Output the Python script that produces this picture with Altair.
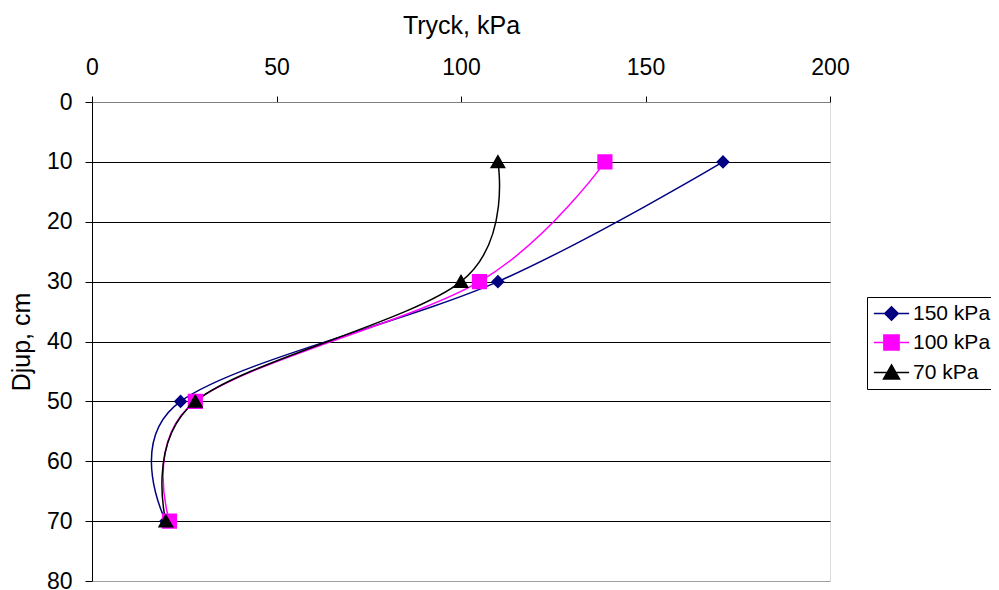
import altair as alt
import pandas as pd

series = ["150 kPa", "100 kPa", "70 kPa"]
depth = [10, 30, 50, 70]
p150 = [171, 110, 24, 20]
p100 = [139, 105, 28, 21]
p70 = [110, 100, 28, 20]
colors = ["#000080", "#FF00FF", "#000000"]
x_ticks = [0, 50, 100, 150, 200]
y_ticks = [0, 10, 20, 30, 40, 50, 60, 70, 80]

# marker paths (with a short horizontal line that only shows in the legend, where it is stroked)
seg = "M-2.2,0H2.2"
shapes = [
    "M-0.85,0L0,-0.85L0.85,0L0,0.85Z" + seg,
    "M-0.95,-0.95H0.95V0.95H-0.95Z" + seg,
    "M0,-0.95L1,0.8L-1,0.8Z" + seg,
]

rows = []
for s, vals in zip(series, [p150, p100, p70]):
    for d, v in zip(depth, vals):
        rows.append({"series": s, "tryck": v, "djup": d})
df = pd.DataFrame(rows)

FONT = "Liberation Sans"

x_enc = alt.X(
    "tryck:Q",
    scale=alt.Scale(domain=[0, 200], nice=False, zero=False),
    axis=alt.Axis(
        orient="top", values=x_ticks, title="Tryck, kPa", grid=False,
        labelFontSize=23, titleFontSize=25, titleFontWeight="normal",
        labelFont=FONT, titleFont=FONT, labelColor="black", titleColor="black",
        tickColor="black", tickSize=6, domainColor="#808080",
        labelPadding=17, titlePadding=18, labelFlush=False, labelOverlap=False,
    ),
)
y_enc = alt.Y(
    "djup:Q",
    scale=alt.Scale(domain=[0, 80], reverse=True, nice=False, zero=False),
    axis=alt.Axis(
        values=y_ticks, title="Djup, cm", grid=True,
        gridColor={"condition": {"test": "datum.value === 0 || datum.value === 80", "value": "#a0a0a0"}, "value": "black"},
        gridOpacity=1, gridWidth=1,
        labelFontSize=23, titleFontSize=25, titleFontWeight="normal",
        labelFont=FONT, titleFont=FONT, labelColor="black", titleColor="black",
        tickColor="black", tickSize=7, domainColor="black",
        labelPadding=13, titlePadding=12, labelFlush=False, labelOverlap=False,
    ),
)

fill_scale = alt.Scale(domain=series, range=colors)
stroke_scale = alt.Scale(domain=series, range=colors)
shape_scale = alt.Scale(domain=series, range=shapes)

legend = alt.Legend(
    title=None, orient="none", legendX=775, legendY=195,
    strokeColor="black", fillColor="white", padding=6, cornerRadius=0,
    labelFont=FONT, labelFontSize=21, labelColor="black",
    symbolSize=256, symbolStrokeWidth=1.5, symbolOpacity=1,
    symbolOffset=8, labelOffset=11, rowPadding=7,
)

base = alt.Chart(df)

lines = base.mark_line(interpolate="cardinal", strokeWidth=1.5).encode(
    x=x_enc, y=y_enc,
    stroke=alt.Stroke("series:N", scale=stroke_scale, legend=None),
    order=alt.Order("djup:Q"),
)

points = base.mark_point(filled=True, opacity=1, size=256, strokeWidth=0).encode(
    x=x_enc, y=y_enc,
    fill=alt.Fill("series:N", scale=fill_scale, legend=None),
    shape=alt.Shape("series:N", scale=shape_scale, legend=None),
)

legend_layer = base.mark_point(filled=True, opacity=0, size=256, strokeWidth=1.5).encode(
    x=x_enc, y=y_enc,
    fill=alt.Fill("series:N", scale=fill_scale, legend=legend),
    stroke=alt.Stroke("series:N", scale=stroke_scale, legend=legend),
    shape=alt.Shape("series:N", scale=shape_scale, legend=legend),
)

chart = alt.layer(lines, points, legend_layer).resolve_legend(
    fill="independent", stroke="independent", shape="independent"
).properties(
    width=738, height=479,
    autosize=alt.AutoSizeParams(type="none"),
    padding={"left": 84, "top": 94, "right": 161, "bottom": 9},
).configure_view(stroke=None).configure(font=FONT)

chart.save("out.html", embed_options={"renderer": "svg", "actions": False})
